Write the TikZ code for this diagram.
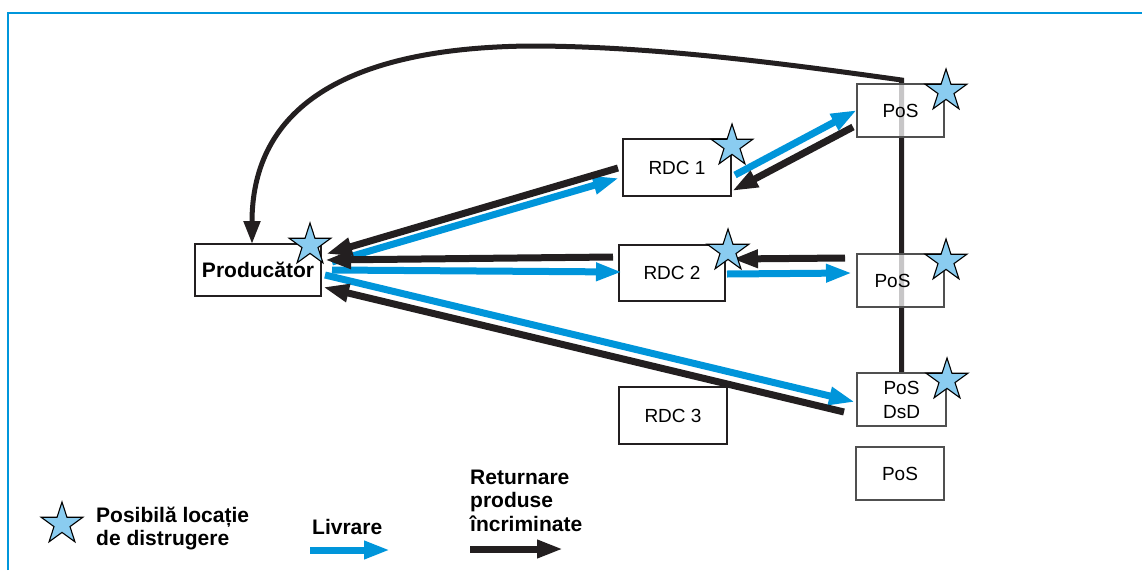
\documentclass[tikz,border=0pt]{standalone}
\usepackage{fontspec}
\setmainfont{Liberation Sans}
\usetikzlibrary{arrows.meta,shapes.geometric,calc,backgrounds}
\definecolor{frameblue}{RGB}{0,150,219}
\definecolor{livblue}{RGB}{0,149,218}
\definecolor{retblack}{RGB}{35,31,32}
\definecolor{starfill}{RGB}{138,204,240}
\definecolor{posgray}{RGB}{80,80,80}
\begin{document}
\begin{tikzpicture}[x=1pt,y=-1pt,
  box/.style={draw=retblack, line width=2.5pt, fill=white, inner sep=0pt, outer sep=0pt,
    font=\fontsize{19}{23}\selectfont},
  posbox/.style={draw=posgray, line width=2pt, fill=white, fill opacity=0.75, text opacity=1,
    inner sep=0pt, outer sep=0pt, minimum width=87pt, minimum height=53pt,
    font=\fontsize{19}{24}\selectfont, align=center},
  dstar/.style={star, star points=5, star point ratio=2.618, minimum size=44pt, inner sep=0pt,
    fill=starfill, draw=black, line width=1.1pt},
  livr/.style={draw=livblue, line width=7pt, -{Triangle[length=26pt,width=17pt]}},
  retur/.style={draw=retblack, line width=7pt, -{Triangle[length=26pt,width=17pt]}},
  legend/.style={font=\fontsize{21}{23.5}\selectfont\bfseries, inner sep=0pt, align=left}
]
\useasboundingbox (0,0) rectangle (1142,570);

% frame
\draw[frameblue, line width=2.5pt] (8,570) -- (8,13) -- (1142,13);

% boxes
\node[box, minimum width=126pt, minimum height=52pt, font=\fontsize{21}{24}\selectfont\bfseries]
  (prod) at (258,270) {Producător};
\node[box, minimum width=108pt, minimum height=57pt] (rdc1) at (677,167.5) {RDC 1};
\node[box, minimum width=106pt, minimum height=56pt] (rdc2) at (672,273) {RDC 2};
\node[box, minimum width=108pt, minimum height=57pt] (rdc3) at (673,415.5) {RDC 3};

\node[posbox] (pos1) at (900.5,110.5) {PoS};
\node[posbox] (pos2) at (900.5,280.5) {PoS\hspace*{16pt}};
\node[posbox, minimum width=89pt] (dsd) at (901.5,399.5) {PoS\\DsD};
\node[posbox, minimum width=88pt] (pos4) at (900,473.5) {PoS};

% return path from the points of sale back to the producer
\coordinate (bend) at (901.5,80);
\begin{scope}[on background layer]
  \draw[retblack, line width=5pt, -{Triangle[length=23pt,width=16pt]}]
    (dsd.north) -- (bend)
    .. controls (780,63) and (650,46) .. (530,46)
    .. controls (330,48) and (252,118) .. ($(prod.north)+(-6,0)$);
\end{scope}

% deliveries
\draw[livr] ($(prod.east)+(11,-8)$) -- ($(rdc1.west)+(-4,10.5)$);
\draw[livr] ($(prod.east)+(11,0)$) -- ($(rdc2.west)+(3,-1)$);
\draw[livr] ($(prod.east)+(4,5)$) -- ($(dsd.west)+(-2,2.5)$);
\draw[livr] ($(rdc1.east)+(4,7.5)$) -- ($(pos1.west)+(0,-0.5)$);
\draw[livr] ($(rdc2.east)+(2,1)$) -- ($(pos2.west)+(-5,-7.5)$);

% returns
\draw[retur] ($(rdc1.west)+(-5,0.5)$) -- ($(prod.east)+(5,-16)$);
\draw[retur] ($(rdc2.west)+(-6,-16)$) -- ($(prod.east)+(4,-10)$);
\draw[retur] ($(dsd.west)+(-13,12.5)$) -- ($(prod.east)+(2,17)$);
\draw[retur] ($(pos1.west)+(-4,16.5)$) -- ($(rdc1.east)+(1,23.5)$);
\draw[retur] ($(pos2.west)+(-12,-22.5)$) -- ($(rdc2.east)+(7,-14)$);

% possible destruction sites
\node[dstar] (s0) at (310,245) {};
\node[dstar] (s1) at (732,146) {};
\node[dstar] (s2) at (728,251) {};
\node[dstar] (s3) at (946,91) {};
\node[dstar] (s4) at (946,261) {};
\node[dstar] (s5) at (947,380) {};

% legend
\node[dstar] (s6) at (62,524) {};
\node[legend, anchor=north west] (lstar) at (96,506.5) {Posibilă locație\\de distrugere};
\node[legend, anchor=west] (lliv) at (312,527) {Livrare};
\node[legend, anchor=north west] (lret) at (470,469.5) {Returnare\\produse\\încriminate};
\coordinate (la1) at (310,550);
\coordinate (la2) at (390,550);
\coordinate (lb1) at (470,549);
\coordinate (lb2) at (563,549);
\draw[livr] (la1) -- (la2);
\draw[retur] (lb1) -- (lb2);
\end{tikzpicture}
\end{document}
